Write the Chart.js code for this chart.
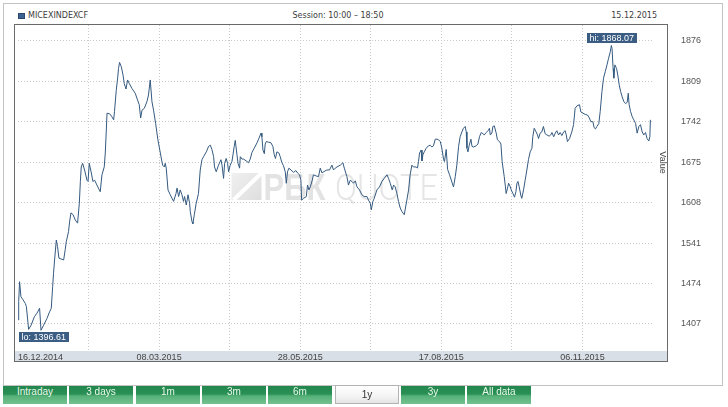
<!DOCTYPE html>
<html>
<head>
<meta charset="utf-8">
<title>MICEXINDEXCF</title>
<script src="https://cdn.jsdelivr.net/npm/chart.js@4.4.0/dist/chart.umd.min.js"></script>
<style>
  body { margin: 0; background: #fff; }
  #wrap { position: relative; width: 728px; height: 407px; overflow: hidden; }
  #frame { position: absolute; left: 3px; top: 3px; width: 718px; height: 381px; border: 1px solid #c3c3c3; }
  .hdr { position: absolute; top: 11px; font: 8px "DejaVu Sans", Verdana, sans-serif; color: #3c3c3c; line-height: 10px; white-space: nowrap; }
  #icon { position: absolute; left: 18px; top: 13px; width: 5px; height: 4px; background: #3d6190; border: 1px solid #2b4a70; }
  canvas { position: absolute; left: 0; top: 0; }
  .btn { position: absolute; top: 386px; width: 64px; height: 18px; line-height: 19px; text-align: center;
         font: 10px "Liberation Sans", Arial, sans-serif; color: #eaf8ea;
         background: linear-gradient(to bottom, #21874d 0%, #2a9056 45%, #55b178 55%, #74c18f 100%); }
  .btn.sel { top: 385px; height: 17px; line-height: 18px; width: 62px; color: #333;
             background: linear-gradient(to bottom, #ffffff 0%, #f4f4f4 60%, #e4e4e4 100%); border: 1px solid #b3b3b3; }
</style>
</head>
<body>
<div id="wrap">
  <div id="frame"></div>
  <div id="icon"></div>
  <div class="hdr" style="left:28px;">MICEXINDEXCF</div>
  <div class="hdr" style="left:238px;width:200px;text-align:center;">Session: 10:00 – 18:50</div>
  <div class="hdr" style="right:71px;text-align:right;">15.12.2015</div>
  <canvas id="myChart" width="728" height="407"></canvas>
  <div class="btn" style="left:3px;">Intraday</div>
  <div class="btn" style="left:69px;">3 days</div>
  <div class="btn" style="left:136px;">1m</div>
  <div class="btn" style="left:202px;">3m</div>
  <div class="btn" style="left:268px;">6m</div>
  <div class="btn sel" style="left:335px;">1y</div>
  <div class="btn" style="left:401px;">3y</div>
  <div class="btn" style="left:467px;">All data</div>
</div>
<script>
// days since 16.12.2014 and index value
const days = [
  0, 0.4, 0.9, 1.7, 2.9, 4.2, 4.8, 6.1, 7.5, 9.4, 10.9, 12.4, 13.2, 14.7, 16.6, 18.1, 19.1, 19.9, 20.4, 21.0,
  22.0, 22.7, 23.5, 25.3, 26.2, 27.1, 27.7, 29.0, 29.6, 30.4, 31.6, 32.9, 34.2, 35.2, 35.8, 36.3, 37.1, 38.2, 39.6, 40.2,
  40.9, 42.1, 43.0, 44.0, 45.3, 47.2, 48.2, 49.5, 50.1, 50.7, 51.1, 52.6, 53.7, 54.9, 55.4, 56.4, 57.2, 57.7, 58.3, 59.3,
  60.3, 61.0, 62.0, 62.9, 63.9, 65.4, 67.3, 68.6, 69.6, 70.4, 71.2, 72.5, 74.0, 74.9, 75.9, 76.9, 77.8, 79.0, 80.3, 81.7,
  83.0, 84.0, 84.5, 85.1, 86.1, 87.4, 89.3, 90.7, 91.3, 92.2, 93.1, 94.1, 95.0, 95.6, 96.6, 97.6, 98.5, 98.9, 99.9, 100.4,
  101.2, 102.3, 103.6, 104.6, 105.6, 106.5, 108.1, 109.4, 110.4, 111.3, 112.3, 112.8, 113.8, 115.1, 116.5, 117.1, 118.0, 118.6, 119.5, 120.3,
  120.9, 121.8, 122.8, 123.4, 124.1, 124.7, 125.7, 126.3, 127.2, 127.6, 128.6, 129.5, 131.0, 132.3, 133.3, 134.3, 135.6, 137.2, 138.1, 139.5,
  140.0, 140.6, 141.4, 141.9, 142.5, 143.8, 145.2, 146.3, 147.1, 147.8, 148.6, 149.8, 150.5, 151.5, 152.4, 153.4, 154.0, 154.7, 155.5, 156.7,
  158.2, 159.5, 160.5, 161.6, 162.4, 162.8, 163.9, 165.5, 166.2, 167.0, 167.8, 168.9, 169.6, 171.2, 172.5, 173.5, 174.5, 175.4, 177.3, 178.8,
  180.2, 181.1, 182.1, 183.1, 185.0, 186.5, 187.3, 188.8, 189.7, 190.7, 191.7, 192.6, 193.6, 194.6, 196.0, 197.4, 198.7, 200.3, 201.2, 202.2,
  202.8, 203.7, 204.5, 206.0, 207.5, 208.9, 210.2, 211.8, 212.7, 213.7, 214.8, 215.6, 216.5, 217.5, 218.4, 219.4, 220.4, 221.7, 222.4, 223.2,
  224.2, 225.1, 226.1, 227.0, 228.6, 229.3, 229.9, 230.5, 231.4, 231.9, 232.4, 233.2, 234.3, 235.6, 236.6, 237.6, 238.5, 239.5, 240.5, 241.4,
  242.4, 243.3, 244.3, 244.8, 245.8, 246.6, 247.7, 248.5, 249.6, 250.0, 251.0, 251.9, 252.9, 253.8, 254.8, 255.7, 256.7, 257.3, 257.7, 258.3,
  259.0, 260.0, 260.6, 261.5, 263.0, 264.0, 264.9, 265.9, 266.9, 267.6, 268.8, 270.1, 270.6, 271.1, 272.0, 272.6, 273.4, 274.5, 275.2, 276.4,
  277.2, 277.9, 279.1, 279.8, 280.2, 281.0, 281.6, 282.6, 283.1, 284.1, 285.0, 285.8, 286.4, 287.0, 287.7, 288.7, 289.2, 290.2, 291.1, 292.1,
  293.0, 294.0, 295.0, 295.5, 296.3, 297.4, 298.2, 298.8, 299.7, 300.7, 301.6, 302.6, 303.6, 304.9, 305.8, 306.5, 307.5, 308.4, 309.3, 310.3,
  311.2, 312.2, 313.2, 314.1, 314.7, 315.4, 316.6, 317.9, 318.9, 319.8, 320.8, 322.3, 323.1, 324.3, 325.6, 326.9, 328.0, 328.8, 330.0, 330.7,
  331.5, 332.3, 333.4, 334.2, 335.2, 336.1, 337.1, 338.1, 339.0, 340.0, 340.6, 341.0, 341.6, 342.0, 342.6, 343.6, 344.3, 345.1, 345.9, 346.8,
  347.8, 348.7, 349.7, 350.3, 350.8, 351.6, 352.6, 353.5, 354.5, 355.4, 356.4, 357.3, 358.3, 359.2, 360.2, 361.1, 362.1, 362.7, 363.0
];
const values = [
  1414, 1444, 1477, 1452, 1447, 1441, 1436, 1398, 1405, 1419, 1425, 1433, 1396.61, 1405, 1416, 1427, 1433, 1469, 1491, 1513,
  1546, 1535, 1516, 1514, 1513, 1530, 1543, 1560, 1576, 1591, 1588, 1579, 1574, 1607, 1643, 1667, 1673, 1662, 1645, 1643,
  1673, 1657, 1643, 1645, 1637, 1626, 1654, 1667, 1690, 1728, 1756, 1755, 1751, 1745, 1759, 1794, 1814, 1830, 1840, 1833,
  1819, 1805, 1796, 1811, 1805, 1797, 1789, 1778, 1770, 1748, 1761, 1764, 1775, 1786, 1811, 1775, 1761, 1739, 1712, 1690,
  1670, 1667, 1673, 1665, 1629, 1621, 1610, 1623, 1632, 1618, 1629, 1621, 1610, 1618, 1604, 1621, 1607, 1593, 1576, 1573,
  1588, 1607, 1623, 1662, 1679, 1684, 1692, 1701, 1703, 1696, 1684, 1667, 1659, 1670, 1679, 1670, 1648, 1673, 1681, 1673,
  1659, 1670, 1676, 1687, 1701, 1711, 1687, 1673, 1665, 1684, 1680, 1680, 1677, 1674, 1680, 1691, 1698, 1707, 1713, 1723,
  1717, 1695, 1689, 1705, 1709, 1708, 1707, 1701, 1687, 1681, 1692, 1690, 1684, 1674, 1669, 1659, 1640, 1659, 1665, 1662,
  1658, 1661, 1657, 1654, 1645, 1612, 1615, 1618, 1637, 1629, 1634, 1645, 1654, 1652, 1651, 1665, 1657, 1659, 1662, 1662,
  1670, 1662, 1665, 1667, 1670, 1674, 1665, 1651, 1637, 1645, 1643, 1640, 1644, 1634, 1629, 1621, 1618, 1618, 1612, 1607,
  1596, 1610, 1615, 1629, 1634, 1643, 1648, 1654, 1648, 1640, 1629, 1637, 1634, 1623, 1610, 1599, 1593, 1588, 1599, 1612,
  1629, 1654, 1670, 1667, 1667, 1665, 1676, 1690, 1695, 1677, 1687, 1692, 1698, 1702, 1703, 1700, 1702, 1713, 1713, 1712,
  1709, 1698, 1679, 1676, 1696, 1663, 1654, 1647, 1637, 1634, 1651, 1670, 1701, 1717, 1725, 1731, 1734, 1725, 1698, 1692,
  1703, 1713, 1701, 1700, 1702, 1705, 1717, 1724, 1722, 1720, 1724, 1728, 1731, 1720, 1723, 1734, 1735, 1723, 1712, 1709,
  1705, 1676, 1651, 1634, 1623, 1632, 1640, 1634, 1629, 1623, 1617, 1626, 1640, 1643, 1634, 1619, 1615, 1629, 1645, 1662,
  1679, 1692, 1698, 1717, 1731, 1725, 1720, 1714, 1723, 1725, 1734, 1722, 1720, 1718, 1720, 1724, 1717, 1723, 1727, 1720,
  1724, 1719, 1725, 1727, 1720, 1709, 1714, 1725, 1737, 1764, 1768, 1770, 1758, 1756, 1754, 1753, 1748, 1742, 1742, 1732,
  1730, 1734, 1739, 1759, 1792, 1814, 1825, 1836, 1847, 1858, 1868.07, 1863, 1830, 1814, 1836, 1830, 1819, 1803, 1792, 1783,
  1775, 1772, 1774, 1789, 1770, 1759, 1750, 1745, 1739, 1723, 1734, 1737, 1725, 1720, 1724, 1714, 1710, 1717, 1745
];

const yTicks = [1407, 1474, 1541, 1608, 1675, 1742, 1809, 1876];
const xTickLabels = ['16.12.2014', '', '08.03.2015', '', '28.05.2015', '', '17.08.2015', '', '06.11.2015', ''];
const xStep = 40.5;   // days between grid lines

const lineColor = '#34597f';
const gridColor = '#c9c9c9';

// band under the plot, outer frame and the faint watermark
const backdrop = {
  id: 'backdrop',
  beforeDraw(chart) {
    const { ctx, chartArea: a } = chart;
    const x0 = Math.round(a.left - 4), x1 = Math.round(a.right + 15);
    ctx.save();
    ctx.fillStyle = '#d8dfe6';
    ctx.fillRect(x0, a.bottom, x1 - x0, 11);

    // watermark
    const cx = (a.left + a.right) / 2, base = (a.top + a.bottom) / 2 + 12;
    const lx = cx - 104;
    const g = ctx.createLinearGradient(lx, base - 27, lx + 30, base);
    g.addColorStop(0, '#f0f0f0');
    g.addColorStop(1, '#dedede');
    ctx.fillStyle = g;
    ctx.fillRect(lx, base - 27, 30, 27);
    ctx.strokeStyle = '#fff';
    ctx.lineWidth = 4;
    ctx.beginPath();
    ctx.moveTo(lx + 2, base);
    ctx.lineTo(lx + 30, base - 27);
    ctx.stroke();
    ctx.textBaseline = 'alphabetic';
    ctx.fillStyle = '#e3e3e3';
    ctx.font = 'bold 37px "Liberation Sans", Arial, sans-serif';
    ctx.fillText('РБК', cx - 72, base, 62);
    ctx.fillStyle = '#e5e5e5';
    ctx.font = '300 37px Roboto, "Liberation Sans", sans-serif';
    ctx.fillText('QUOTE', cx - 0.5, base, 103);
    ctx.restore();
  },
  afterDatasetsDraw(chart) {
    const { ctx, chartArea: a } = chart;
    const pts = chart.getDatasetMeta(0).data;
    let hi = 0, lo = 0;
    values.forEach((v, i) => { if (v > values[hi]) hi = i; if (v < values[lo]) lo = i; });
    ctx.save();
    ctx.font = '9px "Liberation Sans", Arial, sans-serif';
    ctx.textBaseline = 'middle';
    ctx.textAlign = 'left';
    const box = (txt, px, top) => {
      const w = ctx.measureText(txt).width + 5;
      let bx = px - w / 2;
      bx = Math.max(a.left + 1, Math.min(bx, a.right + 13 - w));
      ctx.fillStyle = '#3b5d83';
      ctx.fillRect(Math.round(bx), Math.round(top), Math.round(w), 10);
      ctx.fillStyle = '#fff';
      ctx.fillText(txt, Math.round(bx) + 2.5, Math.round(top) + 5.5);
    };
    box('hi: ' + values[hi].toFixed(2), pts[hi].x, pts[hi].y - 12.5);
    box('lo: ' + values[lo].toFixed(2), pts[lo].x, pts[lo].y + 2);
    ctx.restore();
  },
  afterDraw(chart) {
    const { ctx, chartArea: a } = chart;
    const x0 = Math.round(a.left - 4) + 0.5, x1 = Math.round(a.right + 15) - 0.5;
    ctx.save();
    ctx.strokeStyle = '#6a6a6a';
    ctx.lineWidth = 1;
    ctx.strokeRect(x0, a.top - 0.5, x1 - x0, a.bottom + 11 - a.top);
    // axis title
    ctx.translate(a.right + 9, a.top + 137.5);
    ctx.rotate(Math.PI / 2);
    ctx.font = '9px "Liberation Sans", Arial, sans-serif';
    ctx.fillStyle = '#444';
    ctx.textAlign = 'center';
    ctx.textBaseline = 'middle';
    ctx.fillText('Value', 0, 0);
    ctx.restore();
  }
};

Chart.defaults.font.family = '"Liberation Sans", Arial, sans-serif';
Chart.defaults.font.size = 9;

const ctx = document.getElementById('myChart').getContext('2d');
const myChart = new Chart(ctx, {
  type: 'line',
  data: {
    datasets: [{
      label: 'MICEXINDEXCF',
      data: days.map((d, i) => ({ x: d, y: values[i] })),
      borderColor: lineColor,
      borderWidth: 1,
      pointRadius: 0,
      tension: 0,
      fill: false
    }]
  },
  options: {
    responsive: false,
    devicePixelRatio: 1,
    animation: false,
    events: [],
    layout: { padding: { left: 18, top: 25, right: 0, bottom: 45 } },
    plugins: { legend: { display: false }, tooltip: { enabled: false } },
    scales: {
      x: {
        type: 'linear',
        min: 0,
        max: xStep * (xTickLabels.length - 1),
        afterBuildTicks: s => { s.ticks = xTickLabels.map((_, i) => ({ value: i * xStep })); },
        afterFit: s => { s.height = 11; s.paddingLeft = 0; s.paddingRight = 0; },
        grid: {
          drawTicks: false,
          color: c => (c.index === 0 || c.index === xTickLabels.length - 1) ? 'rgba(0,0,0,0)' : gridColor
        },
        border: { display: false, dash: [1, 2] },
        ticks: {
          autoSkip: false,
          maxRotation: 0,
          align: 'inner',
          padding: 1,
          color: '#444',
          callback: (v, i) => xTickLabels[i]
        }
      },
      y: {
        position: 'right',
        min: 1362.3,
        max: 1902,
        afterBuildTicks: s => { s.ticks = yTicks.map(v => ({ value: v })); },
        afterFit: s => { s.width = 75; s.paddingTop = 0; s.paddingBottom = 0; },
        grid: { drawTicks: false, color: gridColor },
        border: { display: false, dash: [1, 2] },
        ticks: { padding: 28, color: '#555', callback: v => String(v) }
      }
    }
  },
  plugins: [backdrop]
});
</script>
</body>
</html>
